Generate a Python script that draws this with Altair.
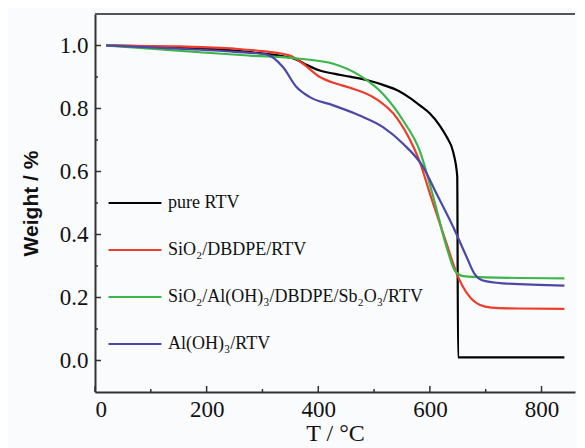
import altair as alt
import pandas as pd

series_names = [
    "pure RTV",
    "SiO₂/DBDPE/RTV",
    "SiO₂/Al(OH)₃/DBDPE/Sb₂O₃/RTV",
    "Al(OH)₃/RTV",
]
series_colors = ["#000000", "#ee3b2b", "#3cb54a", "#4b48a6"]

pure_T = [20, 100, 200, 277, 330, 360, 380, 400, 430, 457, 490, 516, 545, 564, 582, 600, 618, 630, 642, 649, 650.5, 700, 760, 841]
pure_W = [1.0, 0.997, 0.99, 0.979, 0.968, 0.956, 0.938, 0.922, 0.910, 0.901, 0.889, 0.875, 0.855, 0.834, 0.810, 0.784, 0.745, 0.710, 0.660, 0.585, 0.01, 0.01, 0.01, 0.01]

sio2_T = [20, 150, 250, 300, 349, 373, 403, 430, 457, 504, 540, 570, 582, 600, 630, 649, 670, 690, 710, 760, 841]
sio2_W = [1.0, 0.997, 0.99, 0.982, 0.968, 0.942, 0.900, 0.880, 0.866, 0.830, 0.772, 0.680, 0.630, 0.530, 0.370, 0.272, 0.205, 0.176, 0.168, 0.165, 0.164]

mix_T = [20, 100, 200, 277, 367, 427, 474, 516, 552, 582, 606, 630, 645, 660, 700, 841]
mix_W = [1.0, 0.99, 0.977, 0.968, 0.958, 0.942, 0.905, 0.846, 0.762, 0.665, 0.520, 0.360, 0.285, 0.268, 0.264, 0.261]

aloh_T = [20, 150, 250, 307, 337, 361, 385, 427, 474, 516, 552, 588, 612, 642, 666, 680, 695, 731, 841]
aloh_W = [1.0, 0.99, 0.98, 0.972, 0.931, 0.868, 0.836, 0.810, 0.778, 0.741, 0.688, 0.614, 0.529, 0.423, 0.328, 0.275, 0.254, 0.245, 0.238]

x_major = [0, 200, 400, 600, 800]
x_minor = [100, 300, 500, 700]
y_major = [0.0, 0.2, 0.4, 0.6, 0.8, 1.0]
y_minor = [0.1, 0.3, 0.5, 0.7, 0.9]

rows = []
for name, T, W in zip(series_names, [pure_T, sio2_T, mix_T, aloh_T], [pure_W, sio2_W, mix_W, aloh_W]):
    for t, w in zip(T, W):
        rows.append({"series": name, "T": t, "W": w})
df = pd.DataFrame(rows)

W_PX, H_PX = 480, 378
XDOM = [0, 860]
YDOM = [-0.1, 1.1]

xscale = alt.Scale(domain=XDOM, nice=False, zero=False)
yscale = alt.Scale(domain=YDOM, nice=False, zero=False)

lines = alt.Chart(df).mark_line(strokeWidth=2.2, interpolate="monotone").encode(
    x=alt.X("T:Q", scale=xscale,
            axis=alt.Axis(title="T / °C", values=x_major, ticks=False, grid=False,
                          labelFont="Liberation Serif", labelFontSize=23, labelColor="#111",
                          labelPadding=6, titleFont="Liberation Serif", titleFontSize=24,
                          titleFontWeight="normal", titleColor="#111", titlePadding=0,
                          domainColor="#333", domainWidth=2)),
    y=alt.Y("W:Q", scale=yscale,
            axis=alt.Axis(title="Weight / %", values=y_major, format=".1f", ticks=False, grid=False,
                          labelFont="Liberation Serif", labelFontSize=23, labelColor="#111",
                          labelPadding=7, titleFont="Liberation Sans", titleFontSize=21,
                          titleFontWeight="bold", titleColor="#111", titlePadding=18,
                          domainColor="#333", domainWidth=2)),
    color=alt.Color("series:N",
                    scale=alt.Scale(domain=series_names, range=series_colors),
                    legend=alt.Legend(title=None, orient="none", legendX=12, legendY=161,
                                      symbolType="stroke", symbolSize=2800, symbolStrokeWidth=2.2,
                                      labelFont="Liberation Serif", labelFontSize=18,
                                      labelColor="#111", labelOffset=5, rowPadding=10,
                                      padding=0, labelLimit=400)),
    order=alt.Order("T:Q"),
)

xt_major = alt.Chart(pd.DataFrame({"v": x_major})).mark_rule(color="#333", strokeWidth=1.5).encode(
    x=alt.X("v:Q", scale=xscale), y=alt.value(H_PX), y2=alt.value(H_PX - 6))
xt_minor = alt.Chart(pd.DataFrame({"v": x_minor})).mark_rule(color="#333", strokeWidth=1.5).encode(
    x=alt.X("v:Q", scale=xscale), y=alt.value(H_PX), y2=alt.value(H_PX - 3))
yt_major = alt.Chart(pd.DataFrame({"v": y_major})).mark_rule(color="#333", strokeWidth=1.5).encode(
    y=alt.Y("v:Q", scale=yscale), x=alt.value(0), x2=alt.value(6))
yt_minor = alt.Chart(pd.DataFrame({"v": y_minor})).mark_rule(color="#333", strokeWidth=1.5).encode(
    y=alt.Y("v:Q", scale=yscale), x=alt.value(0), x2=alt.value(3))
top_frame = alt.Chart(pd.DataFrame({"v": [0]})).mark_rule(color="#555", strokeWidth=2).encode(
    y=alt.value(0), x=alt.value(0), x2=alt.value(W_PX))

chart = alt.layer(lines, xt_major, xt_minor, yt_major, yt_minor, top_frame).properties(
    width=W_PX, height=H_PX,
    autosize=alt.AutoSizeParams(type="none"),
    padding={"left": 87, "top": 6, "right": 2, "bottom": 56},
    background="#fafbfd",
).configure_view(stroke=None)

chart.save("out.html", embed_options={"renderer": "svg", "actions": False})
